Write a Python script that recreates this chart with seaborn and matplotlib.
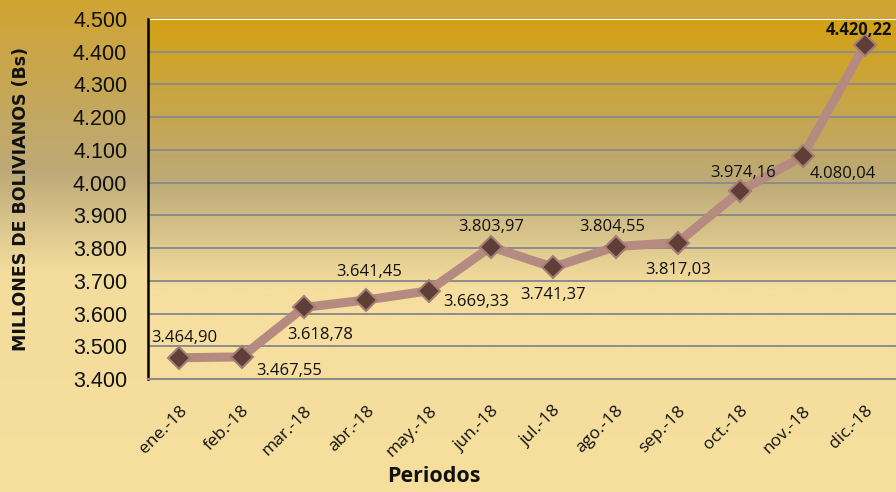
import numpy as np
import pandas as pd
import matplotlib
matplotlib.use("Agg")
import matplotlib.pyplot as plt
from matplotlib.colors import LinearSegmentedColormap
import seaborn as sns

sns.set_style("white")

# data
periodos = ["ene.-18", "feb.-18", "mar.-18", "abr.-18", "may.-18", "jun.-18",
            "jul.-18", "ago.-18", "sep.-18", "oct.-18", "nov.-18", "dic.-18"]
valores = [3464.90, 3467.55, 3618.78, 3641.45, 3669.33, 3803.97,
           3741.37, 3804.55, 3817.03, 3974.16, 4080.04, 4420.22]
y_ticks = [3400, 3500, 3600, 3700, 3800, 3900, 4000, 4100, 4200, 4300, 4400, 4500]

# label offsets (points) for each data label
offsets = [(4, 14), (34, -10), (12, -20), (2, 20), (34, -8), (0, 14),
           (0, -20), (-2, 14), (0, -20), (2, 13), (29, -13), (-4, 11)]


def fmt_es(v, dec=2):
    s = f"{v:,.{dec}f}"
    return s.replace(",", "X").replace(".", ",").replace("X", ".")


df = pd.DataFrame({"pos": np.arange(len(periodos)), "valor": valores})

fig = plt.figure(figsize=(8.96, 4.92), dpi=100)

# figure background gradient
bg = fig.add_axes([0, 0, 1, 1], zorder=-10)
fig_cmap = LinearSegmentedColormap.from_list(
    "figbg", [(0.0, "#D0A432"), (0.35, "#BEAA78"), (0.55, "#F3DC9C"), (1.0, "#F7E09E")])
bg.imshow(np.linspace(0, 1, 256).reshape(-1, 1), aspect="auto", cmap=fig_cmap,
          extent=[0, 1, 0, 1], origin="upper")
bg.axis("off")

ax = fig.add_axes([148 / 896, 1 - 379 / 492, 748 / 896, 360 / 492])
ax.patch.set_alpha(0)
ax_cmap = LinearSegmentedColormap.from_list(
    "axbg", [(0.0, "#D4A114"), (0.45, "#BCAA77"), (0.75, "#F5DE9E"), (1.0, "#F6DF9E")])
ax.imshow(np.linspace(0, 1, 256).reshape(-1, 1), aspect="auto", cmap=ax_cmap,
          extent=[0, 1, 0, 1], origin="upper", transform=ax.transAxes, zorder=0)

sns.lineplot(data=df, x="pos", y="valor", ax=ax, color="#B58A80", lw=6.5,
             marker="D", markersize=11, markerfacecolor="#5E3E36",
             markeredgecolor="#A57E76", markeredgewidth=1.5, zorder=5)

for i, v in enumerate(valores):
    bold = i == len(valores) - 1
    ax.annotate(fmt_es(v), (i, v), xytext=offsets[i], textcoords="offset points",
                ha="center", va="center", fontsize=12, family="Open Sans",
                fontweight="bold" if bold else "normal", color="#111111", zorder=6)

ax.set_xlim(-0.5, len(periodos) - 0.5)
ax.set_ylim(3400, 4500)
ax.set_yticks(y_ticks)
ax.set_yticklabels([fmt_es(t, 0) for t in y_ticks], fontsize=15.5,
                   family="Liberation Sans", color="#111111")
ax.set_xticks(np.arange(len(periodos)))
ax.set_xticklabels(periodos, rotation=45, ha="right", rotation_mode="anchor",
                   fontsize=12.5, family="Open Sans", color="#111111")
ax.set_xticks(np.arange(len(periodos) + 1) - 0.5, minor=True)
ax.tick_params(axis="x", which="major", length=0, pad=17)
ax.tick_params(axis="x", which="minor", length=6, color="#8C8C8C", width=1.5)
ax.tick_params(axis="y", length=6, color="black", width=1.5, pad=9)

ax.grid(False)
for t in y_ticks[1:]:
    ax.axhline(t, color="#8C8C8C", lw=1.4, zorder=1)
ax.axhline(4500, color="white", lw=1.5, zorder=1)

for s in ["top", "right"]:
    ax.spines[s].set_visible(False)
ax.spines["left"].set_color("black")
ax.spines["left"].set_linewidth(1.8)
ax.spines["bottom"].set_color("#8C8C8C")
ax.spines["bottom"].set_linewidth(1.5)

ax.set_xlabel("Periodos", fontsize=15.5, fontweight="bold", family="Open Sans",
              color="#111111")
ax.set_ylabel("MILLONES DE BOLIVIANOS (Bs)", fontsize=12.5, fontweight="bold",
              family="DejaVu Sans", color="#111111")
ax.xaxis.set_label_coords((434 - 148) / 748, -(466 - 379) / 360)
ax.yaxis.set_label_coords(-(148 - 30) / 748, 0.5)

fig.savefig("out.png", dpi=100)
